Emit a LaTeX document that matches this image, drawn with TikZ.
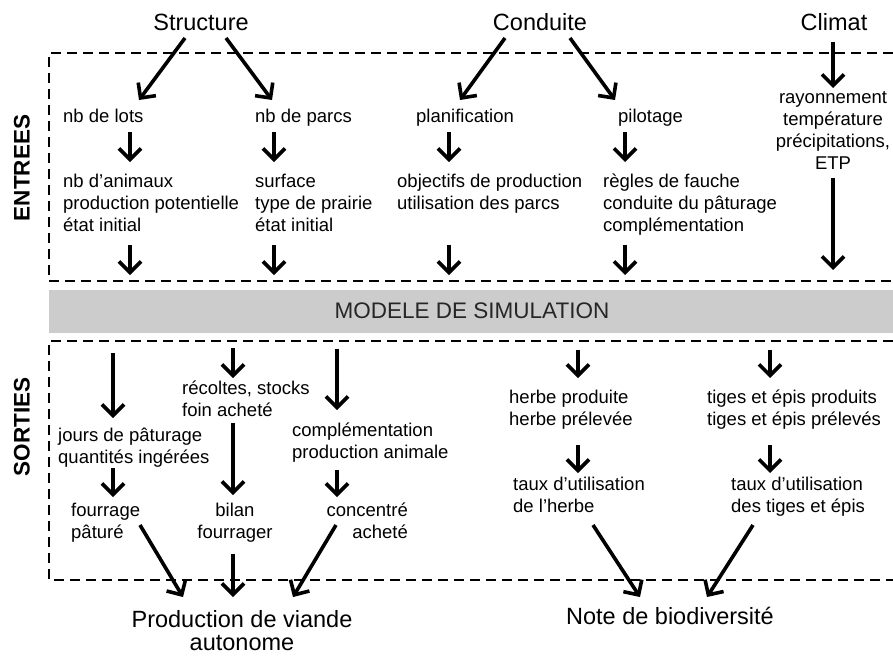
\documentclass[tikz,border=0pt]{standalone}
\usepackage{fontspec}
\setmainfont{Liberation Sans}
\usetikzlibrary{arrows.meta}
\begin{document}
\begin{tikzpicture}[x=1pt,y=-1pt,
  txt/.style={font=\fontsize{18.5}{22}\selectfont, inner sep=0pt, align=left,
    execute at begin node={\strut}, execute at end node={\strut}},
  ttl/.style={font=\fontsize{23.5}{23}\selectfont, inner sep=0pt, align=center},
  side/.style={font=\bfseries\fontsize{22.5}{24}\selectfont, inner sep=0pt, rotate=90},
  arr/.style={line width=3.6pt, -{Straight Barb[length=11pt,width=22pt]}},
  dbox/.style={line width=2.4pt, dash pattern=on 10pt off 6pt}
]
\useasboundingbox (0,0) rectangle (893,657);

% boxes and bar
\draw[dbox] (893,53) -- (49,53) -- (49,281) -- (893,281);
\draw[dbox] (893,341) -- (49,341) -- (49,580) -- (893,580);
\fill[gray!40] (49,290) rectangle (893,333);
\node[font=\fontsize{22.5}{24}\selectfont, inner sep=0pt, text=black!85] (model) at (472,311) {MODELE DE SIMULATION};

\node[side] (entrees) at (22,168) {ENTREES};
\node[side] (sorties) at (22,427) {SORTIES};

% titles
\node[ttl] (structure) at (201,22) {Structure};
\node[ttl] (conduite) at (540,22) {Conduite};
\node[ttl] (climat) at (834,22) {Climat};

% entrees row 1
\node[txt, anchor=west] (lots) at (63,118) {nb de lots};
\node[txt, anchor=west] (parcs) at (255,118) {nb de parcs};
\node[txt, anchor=west] (planif) at (416,118) {planification};
\node[txt, anchor=west] (pilot) at (618,118) {pilotage};
\node[txt, align=center] (meteo) at (833,134) {rayonnement\\température\\précipitations,\\ETP};

% entrees row 2
\node[txt, anchor=west] (anim) at (63,206) {nb d’animaux\\production potentielle\\état initial};
\node[txt, anchor=west] (surf) at (255,206) {surface\\type de prairie\\état initial};
\node[txt, anchor=west] (obj) at (397,195) {objectifs de production\\utilisation des parcs};
\node[txt, anchor=west] (regles) at (603,206) {règles de fauche\\conduite du pâturage\\complémentation};

% coordinates
\coordinate (s1) at (185,38); \coordinate (s1e) at (139,100);
\coordinate (s2) at (226,38); \coordinate (s2e) at (272,100);
\coordinate (c1) at (505,38); \coordinate (c1e) at (460,100);
\coordinate (c2) at (570,38); \coordinate (c2e) at (615,100);
\coordinate (cl1) at (833,42); \coordinate (cl1e) at (833,88);
\draw[arr] (s1) -- (s1e);
\draw[arr] (s2) -- (s2e);
\draw[arr] (c1) -- (c1e);
\draw[arr] (c2) -- (c2e);
\draw[arr] (cl1) -- (cl1e);

\foreach \n/\x in {a/130,b/274,c/449,d/625}{
  \coordinate (u\n) at (\x,132); \coordinate (u\n e) at (\x,162);
  \draw[arr] (u\n) -- (u\n e);
  \coordinate (v\n) at (\x,245); \coordinate (v\n e) at (\x,275);
  \draw[arr] (v\n) -- (v\n e);
}
\coordinate (cl2) at (833,178); \coordinate (cl2e) at (833,270);
\draw[arr] (cl2) -- (cl2e);

% sorties
\node[txt, anchor=west] (recoltes) at (182,402) {récoltes, stocks\\foin acheté};
\node[txt, anchor=west] (jours) at (58,449) {jours de pâturage\\quantités ingérées};
\node[txt, anchor=west] (compl) at (292,444) {complémentation\\production animale};
\node[txt, anchor=west] (fourr) at (71,524) {fourrage\\pâturé};
\node[txt, align=center] (bilan) at (235,524) {bilan\\fourrager};
\node[txt, align=right, anchor=east] (conc) at (408,524) {concentré\\acheté};
\node[ttl] (prod) at (242,631) {Production de viande\\autonome};

\node[txt, anchor=west] (herbe) at (509,411) {herbe produite\\herbe prélevée};
\node[txt, anchor=west] (tiges) at (707,411) {tiges et épis produits\\tiges et épis prélevés};
\node[txt, anchor=west] (tauxh) at (513,498) {taux d’utilisation\\de l’herbe};
\node[txt, anchor=west] (tauxt) at (731,498) {taux d’utilisation\\des tiges et épis};
\node[ttl] (note) at (670,616) {Note de biodiversité};

\coordinate (o1) at (113,353); \coordinate (o1e) at (113,418);
\coordinate (o2) at (233,348); \coordinate (o2e) at (233,378);
\coordinate (o3) at (337,349); \coordinate (o3e) at (337,410);
\coordinate (o4) at (233,423); \coordinate (o4e) at (233,495);
\coordinate (o5) at (113,468); \coordinate (o5e) at (113,497);
\coordinate (o6) at (337,470); \coordinate (o6e) at (337,497);
\coordinate (p1) at (140,525); \coordinate (p1e) at (183,597);
\coordinate (p2) at (233,554); \coordinate (p2e) at (233,597);
\coordinate (p3) at (336,525); \coordinate (p3e) at (293,597);
\foreach \n in {o1,o2,o3,o4,o5,o6,p1,p2,p3}{\draw[arr] (\n) -- (\n e);}

\coordinate (h1) at (578,350); \coordinate (h1e) at (578,378);
\coordinate (h2) at (770,350); \coordinate (h2e) at (770,378);
\coordinate (h3) at (578,445); \coordinate (h3e) at (578,473);
\coordinate (h4) at (770,445); \coordinate (h4e) at (770,473);
\coordinate (n1) at (593,525); \coordinate (n1e) at (640,597);
\coordinate (n2) at (753,525); \coordinate (n2e) at (707,597);
\foreach \n in {h1,h2,h3,h4,n1,n2}{\draw[arr] (\n) -- (\n e);}
\end{tikzpicture}
\end{document}
